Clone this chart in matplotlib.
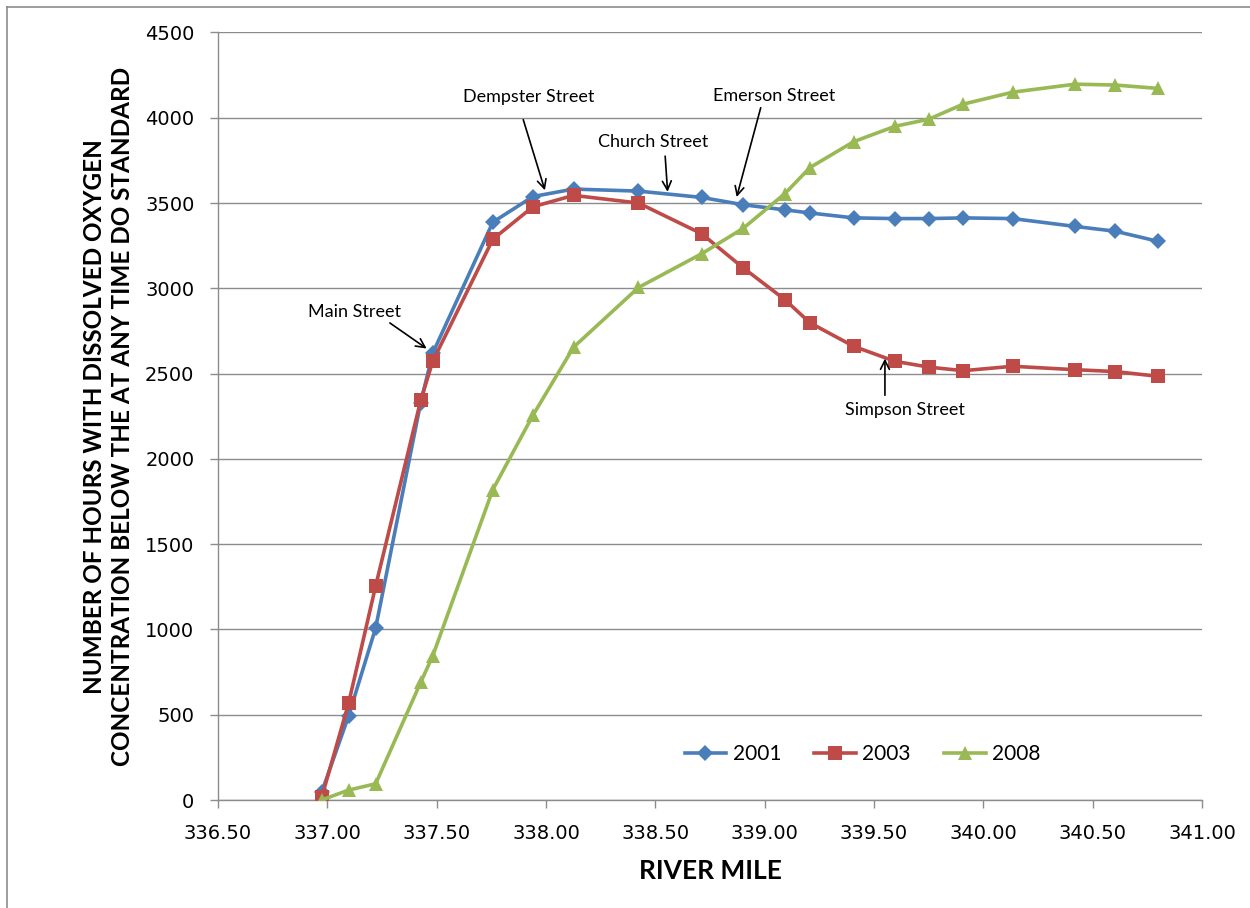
import matplotlib
matplotlib.use("Agg")
import matplotlib.pyplot as plt
from matplotlib.lines import Line2D

# River mile stations
river_mile = [336.974, 337.097, 337.221, 337.427, 337.482, 337.757, 337.940,
              338.126, 338.423, 338.712, 338.902, 339.093, 339.207, 339.407,
              339.596, 339.751, 339.908, 340.134, 340.419, 340.603, 340.801]

# Hours below DO standard
hours_2001 = [45, 492, 1009, 2330, 2620, 3388, 3538, 3582, 3570, 3533, 3490,
              3460, 3442, 3413, 3409, 3409, 3413, 3409, 3363, 3335, 3275]
hours_2003 = [15, 566, 1255, 2343, 2572, 3288, 3478, 3545, 3500, 3320, 3120,
              2933, 2798, 2660, 2572, 2538, 2517, 2543, 2523, 2512, 2484]
hours_2008 = [0, 58, 95, 690, 845, 1820, 2255, 2655, 3005, 3203, 3352,
              3556, 3708, 3860, 3950, 3992, 4080, 4150, 4197, 4192, 4172]

series = [("2001", hours_2001, "#4A7EBB", "D", 8.5),
          ("2003", hours_2003, "#BE4B48", "s", 10),
          ("2008", hours_2008, "#98B954", "^", 10.5)]

# label text, text position, arrow tail, arrow head (data units)
notes = [("Main Street", (337.126, 2859), (337.286, 2797), (337.454, 2647)),
         ("Dempster Street", (337.922, 4119), (337.896, 3989), (337.995, 3575)),
         ("Church Street", (338.489, 3856), (338.545, 3775), (338.556, 3566)),
         ("Emerson Street", (339.044, 4125), (338.982, 4059), (338.872, 3535)),
         ("Simpson Street", (339.641, 2285), (339.550, 2373), (339.550, 2588))]

label_font = ["Lato", "DejaVu Sans"]

fig = plt.figure(figsize=(12.5, 9.08), dpi=100)
ax = fig.add_axes([218 / 1250, 1 - 800 / 908, 984 / 1250, 767.5 / 908])

for name, vals, color, marker, ms in series:
    ax.plot(river_mile, vals, color=color, lw=2.6, marker=marker,
            markersize=ms, markeredgewidth=0, label=name, zorder=3)

for text, tpos, tail, head in notes:
    ax.text(tpos[0], tpos[1], text, ha="center", va="center",
            fontsize=13, family="Lato")
    ax.annotate("", xy=head, xytext=tail,
                arrowprops=dict(arrowstyle="->", color="black", lw=1.2,
                                shrinkA=0, shrinkB=0, mutation_scale=16))

ax.set_xlim(336.5, 341.0)
ax.set_ylim(0, 4500)
ax.set_xticks([336.5 + 0.5 * i for i in range(10)])
ax.set_xticklabels([f"{336.5 + 0.5 * i:.2f}" for i in range(10)])
ax.set_yticks(range(0, 4501, 500))
ax.grid(axis="y", color="#8C8C8C", lw=1.0)
ax.set_axisbelow(True)
for side in ["top", "right"]:
    ax.spines[side].set_visible(False)
for side in ["left", "bottom"]:
    ax.spines[side].set_color("#8C8C8C")
    ax.spines[side].set_linewidth(1.0)
ax.tick_params(axis="both", direction="out", length=6, width=1.0,
               color="#8C8C8C", labelsize=14, pad=11)
ax.tick_params(axis="x", pad=11)

ax.set_xlabel("RIVER MILE", fontsize=19, fontweight="bold",
              family=label_font, labelpad=12)
ax.set_ylabel("NUMBER OF HOURS WITH DISSOLVED OXYGEN\n"
              "CONCENTRATION BELOW THE AT ANY TIME DO STANDARD",
              fontsize=17.5, fontweight="bold", family=label_font,
              linespacing=1.25, labelpad=8)

ax.legend(loc="center", bbox_to_anchor=(0.655, 0.06), ncol=3, frameon=False,
          prop={"family": "Lato", "size": 15},
          handlelength=2.0, columnspacing=1.6, handletextpad=0.3)

# thin frame round the chart area
fig.add_artist(Line2D([7 / 1250, 7 / 1250], [0, 1 - 7 / 908], color="#8C8C8C", lw=1.2))
fig.add_artist(Line2D([7 / 1250, 1], [1 - 7 / 908, 1 - 7 / 908], color="#8C8C8C", lw=1.2))

fig.savefig("out.png", dpi=100)
